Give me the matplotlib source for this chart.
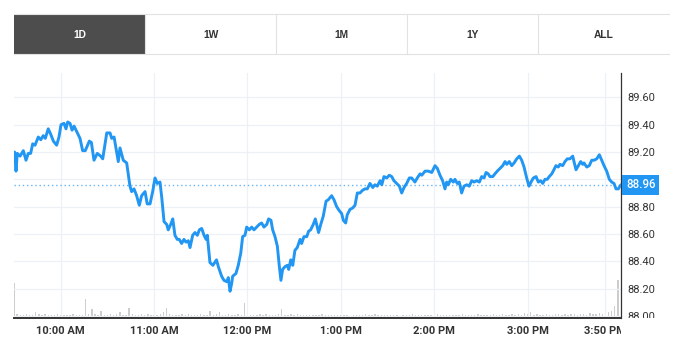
import matplotlib
matplotlib.use("Agg")
import matplotlib.pyplot as plt
from matplotlib.patches import Rectangle
from matplotlib.transforms import Bbox, TransformedBbox

# range selector buttons
ranges = ["1D", "1W", "1M", "1Y", "ALL"]

# intraday price, minutes after the 9:30 open
minutes = [0.4, 1.3, 2.1, 3.9, 6.0, 7.7, 9.2, 10.7, 12.0, 13.5,
           15.6, 17.2, 18.8, 20.1, 22.0, 23.6, 25.3, 27.4, 28.9, 30.2,
           32.1, 33.4, 34.5, 36.0, 37.3, 38.6, 40.3, 42.4, 44.1, 45.8,
           48.4, 49.7, 51.4, 53.5, 55.7, 57.0, 59.6, 61.7, 62.8, 64.3,
           65.5, 67.0, 68.1, 70.2, 72.4, 74.5, 75.6, 77.1, 78.8, 80.5,
           82.0, 84.2, 85.6, 87.4, 89.1, 90.6, 92.1, 93.8, 94.9, 96.4,
           98.1, 99.1, 100.7, 102.0, 103.4, 104.9, 106.2, 107.7, 109.2, 110.5,
           112.0, 113.1, 114.8, 116.3, 117.8, 119.1, 120.6, 122.1, 123.4, 124.2,
           125.9, 127.8, 130.1, 131.3, 133.4, 134.9, 136.7, 137.7, 138.8, 139.9,
           140.5, 142.6, 144.1, 145.7, 146.9, 148.4, 149.5, 151.2, 152.7, 154.2,
           155.9, 157.6, 159.1, 160.6, 162.4, 163.6, 165.1, 166.2, 167.7, 169.2,
           170.5, 171.5, 172.6, 174.1, 175.6, 176.5, 177.8, 179.1, 180.5, 182.0,
           183.8, 184.8, 186.3, 188.1, 189.3, 190.6, 192.3, 193.6,
           195.7, 197.1, 198.7, 200.5, 201.9, 204.1, 205.6, 207.3, 209.0, 210.5,
           211.6, 213.1, 214.1, 215.9, 217.6, 219.1, 220.6, 222.3, 224.0, 225.5,
           227.0, 228.7, 230.5, 231.9, 233.4, 235.2, 236.3, 237.7, 239.5, 241.1,
           242.7, 244.1, 245.9, 247.6, 249.1, 250.6, 252.3, 254.0, 255.5, 257.6,
           259.1, 260.9, 262.0, 264.1, 266.2, 268.4, 270.5, 272.0, 273.7, 275.4,
           276.9, 278.0, 279.0, 280.6, 282.3, 283.3, 284.8, 286.1, 287.6, 289.1,
           290.9, 292.5, 294.1, 295.6, 297.3, 299.0, 300.5, 302.0, 303.3, 304.7,
           305.8, 307.6, 309.0, 310.5, 312.3, 314.0, 315.5, 316.6, 318.2, 319.8,
           321.3, 323.0, 324.7, 326.2, 327.7, 329.4, 330.9, 332.2, 333.7, 335.4,
           336.9, 338.4, 339.7, 341.2, 342.6, 343.9, 345.5, 346.9, 348.2, 349.7,
           350.8, 352.5, 354.0, 355.5, 357.2, 359.0, 359.8, 361.1, 362.6, 364.1,
           365.4, 366.2, 368.0, 369.6, 371.2, 372.7, 374.4, 376.1, 377.6, 379.1,
           380.8, 382.5, 384.0, 385.5, 386.8, 388.3, 389.9]

prices = [89.20, 89.06, 89.19, 89.17, 89.21, 89.14, 89.19, 89.19, 89.26, 89.25,
          89.31, 89.29, 89.32, 89.30, 89.37, 89.33, 89.28, 89.25, 89.31, 89.40,
          89.41, 89.37, 89.42, 89.41, 89.36, 89.39, 89.35, 89.30, 89.21, 89.21,
          89.28, 89.27, 89.14, 89.19, 89.17, 89.15, 89.34, 89.34, 89.30, 89.31,
          89.23, 89.13, 89.23, 89.14, 89.12, 88.95, 88.91, 88.93, 88.88, 88.81,
          88.88, 88.91, 88.82, 88.82, 88.91, 89.01, 88.97, 88.98, 88.87, 88.69,
          88.67, 88.63, 88.67, 88.71, 88.59, 88.56, 88.56, 88.53, 88.56, 88.54,
          88.55, 88.50, 88.59, 88.61, 88.59, 88.63, 88.64, 88.59, 88.56, 88.59,
          88.39, 88.37, 88.41, 88.36, 88.29, 88.26, 88.25, 88.28, 88.18, 88.24,
          88.29, 88.31, 88.37, 88.46, 88.58, 88.59, 88.65, 88.63, 88.65, 88.63,
          88.65, 88.67, 88.68, 88.65, 88.67, 88.71, 88.70, 88.63, 88.58, 88.51,
          88.36, 88.26, 88.34, 88.36, 88.37, 88.34, 88.41, 88.37, 88.48, 88.50,
          88.56, 88.53, 88.58, 88.58, 88.62, 88.63, 88.67, 88.71,
          88.61, 88.67, 88.73, 88.84, 88.85, 88.88, 88.85, 88.80, 88.77, 88.75,
          88.70, 88.68, 88.74, 88.78, 88.79, 88.81, 88.90, 88.90, 88.92, 88.93,
          88.93, 88.97, 88.94, 88.96, 88.95, 88.99, 88.96, 89.02, 89.01, 89.03,
          89.02, 88.99, 88.97, 88.95, 88.90, 88.94, 88.97, 89.01, 89.01, 88.98,
          89.01, 89.04, 89.03, 89.06, 89.06, 89.05, 89.10, 89.08, 89.03, 88.99,
          88.93, 88.98, 88.96, 89.00, 88.98, 89.00, 88.97, 88.98, 88.90, 88.95,
          88.96, 88.95, 88.99, 88.98, 88.99, 88.98, 89.02, 89.01, 89.05, 89.04,
          89.02, 89.02, 89.04, 89.06, 89.08, 89.10, 89.13, 89.11, 89.13, 89.10,
          89.12, 89.15, 89.17, 89.14, 89.09, 89.01, 88.95, 88.98, 89.01, 89.02,
          88.98, 88.99, 88.97, 89.00, 89.00, 89.02, 89.04, 89.07, 89.10, 89.09,
          89.11, 89.10, 89.13, 89.15, 89.15, 89.17, 89.13, 89.07, 89.10, 89.13,
          89.11, 89.12, 89.09, 89.10, 89.14, 89.14, 89.15, 89.18, 89.14, 89.10,
          89.06, 89.00, 88.98, 88.97, 88.93, 88.93, 88.96]
last_price = 88.96

# volume (thousands), one bar per two minutes
vol_minutes = list(range(0, 390, 2))
volumes = [110, 14, 10, 9, 12, 11, 8, 19, 12, 10, 13, 9, 11, 10, 12,
           9, 11, 10, 8, 12, 10, 9, 11, 60, 13, 30, 12, 10, 22, 11,
           10, 14, 9, 12, 19, 11, 10, 32, 12, 9, 11, 13, 10, 12, 9,
           11, 10, 13, 19, 32, 12, 10, 9, 11, 14, 10, 12, 9, 11, 10,
           12, 9, 11, 22, 10, 13, 19, 11, 9, 12, 10, 11, 14, 10, 48,
           12, 10, 9, 11, 13, 10, 12, 9, 11, 10, 12, 29, 11, 9, 13,
           10, 12, 9, 11, 10, 8, 9, 11, 10, 12, 9, 8, 10, 9, 11,
           8, 10, 9, 7, 11, 9, 8, 10, 12, 9, 11, 13, 10, 8, 9,
           10, 8, 9, 11, 7, 9, 10, 8, 12, 9, 10, 8, 9, 11, 10,
           9, 13, 8, 10, 9, 11, 8, 10, 9, 12, 8, 11, 10, 9, 13,
           10, 8, 11, 9, 12, 10, 9, 13, 11, 10, 14, 9, 12, 11, 15,
           12, 18, 10, 13, 11, 9, 12, 10, 11, 13, 12, 10, 14, 11, 12,
           13, 11, 14, 12, 10, 15, 13, 14, 16, 12, 17, 18, 22, 38, 120]

xtick_pos = [30, 90, 150, 210, 270, 330, 380]
xtick_labels = ["10:00 AM", "11:00 AM", "12:00 PM", "1:00 PM", "2:00 PM",
                "3:00 PM", "3:50 PM"]
ytick_pos = [88.00, 88.20, 88.40, 88.60, 88.80, 89.00, 89.20, 89.40, 89.60]

blue = "#2196f3"
grid_c = "#eef0f7"
text_c = "#333333"

W, H = 682, 363
fig = plt.figure(figsize=(W / 100, H / 100), dpi=100)

# header with range buttons, drawn in pixel units
hdr = fig.add_axes([0, 0, 1, 1])
hdr.set_xlim(0, W); hdr.set_ylim(H, 0); hdr.axis("off")
bx0, bw, by0, by1 = 14, 131, 14, 54
for i, lab in enumerate(ranges):
    x0 = bx0 + i * bw
    active = i == 0
    hdr.add_patch(Rectangle((x0, by0), bw, by1 - by0, lw=0,
                            facecolor="#4d4d4d" if active else "white"))
    if i > 0:
        hdr.plot([x0, x0], [by0, by1], color="#e2e2e2", lw=0.8)
    hdr.text(x0 + bw / 2, (by0 + by1) / 2 + 0.5, lab, ha="center", va="center",
             fontsize=7.4, fontweight="bold", family="Liberation Sans",
             color="white" if active else text_c)
hdr.plot([bx0, bx0 + 5 * bw], [by0, by0], color="#e2e2e2", lw=0.8)
hdr.plot([bx0, bx0 + 5 * bw], [by1, by1], color="#e2e2e2", lw=0.8)

left, right, top, bottom = 14, 621, 73, 318
rect = [left / W, 1 - bottom / H, (right - left) / W, (bottom - top) / H]

# volume underneath
axv = fig.add_axes(rect)
axv.bar(vol_minutes, volumes, width=0.9, color="#cdcdcd", align="center")
axv.set_xlim(0, 390)
axv.set_ylim(0, 780)
axv.axis("off")

ax = fig.add_axes(rect)
ax.set_facecolor("none")
ax.plot(minutes, prices, color=blue, lw=2.1, solid_joinstyle="round",
        solid_capstyle="round", zorder=3)
ax.axhline(last_price, color="#6ab4f4", lw=1.0, ls=(0, (1, 2)), zorder=2)
ax.set_xlim(0, 390)
ax.set_ylim(87.984, 89.779)

ax.set_xticks(xtick_pos)
ax.set_xticklabels(xtick_labels)
ax.set_yticks(ytick_pos)
ax.set_yticklabels(["%.2f" % v for v in ytick_pos])
ax.yaxis.tick_right()
ax.set_axisbelow(True)
ax.grid(True, color=grid_c, lw=0.9)
ax.tick_params(axis="both", length=0)
ax.tick_params(axis="y", pad=4.5, labelsize=8, labelcolor=text_c)
ax.tick_params(axis="x", pad=5.5, labelsize=8, labelcolor=text_c)
for t in ax.get_yticklabels():
    t.set_family("Roboto")
for t in ax.get_xticklabels():
    t.set_family("Roboto"); t.set_fontweight("semibold")

for side in ("top", "left"):
    ax.spines[side].set_visible(False)
ax.spines["right"].set_color(text_c); ax.spines["right"].set_linewidth(0.9)
ax.spines["bottom"].set_color(text_c); ax.spines["bottom"].set_linewidth(1.4)

# labels are cut at the plot edges like the original widget
ybox = TransformedBbox(Bbox([[0, rect[1]], [1, 1]]), fig.transFigure)
xbox = TransformedBbox(Bbox([[0, 0], [rect[0] + rect[2], rect[1]]]), fig.transFigure)
for tick in ax.yaxis.get_major_ticks():
    tick.label2.set_clip_box(ybox); tick.label2.set_clip_on(True)
for tick in ax.xaxis.get_major_ticks():
    tick.label1.set_clip_box(xbox); tick.label1.set_clip_on(True)

# current price tag sits over the 89.00 label, as in the widget
ax.annotate("%.2f" % last_price, xy=(1, last_price),
            xycoords=("axes fraction", "data"), xytext=(3.6, 0),
            textcoords="offset points", ha="left", va="center",
            fontsize=8.3, color="white", family="Roboto", fontweight="medium",
            bbox=dict(boxstyle="square,pad=0.32", fc=blue, ec="none"),
            annotation_clip=False, zorder=5)

fig.savefig("out.png", dpi=100, facecolor="white")
